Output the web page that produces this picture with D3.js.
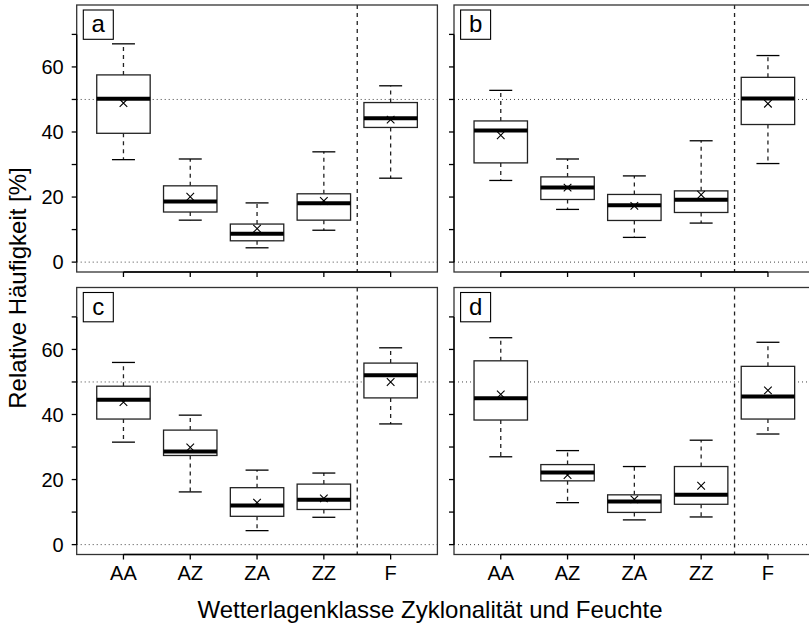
<!DOCTYPE html>
<html><head><meta charset="utf-8">
<script src="https://cdn.jsdelivr.net/npm/d3@7"></script>
<style>body{margin:0;background:#fff} svg{display:block} text{font-family:"Liberation Sans",Arial,Helvetica,sans-serif;fill:#000}</style>
</head><body><svg id="c" width="809" height="626"></svg>
<script>
const categories=["AA","AZ","ZA","ZZ","F"];
const panelLabels=["a","b","c","d"];
const yTicks=[0,10,20,30,40,50,60,70];
const yTickLabels=[0,20,40,60];
const refLines=[0,50];
const separatorAt=4.5;
const whiskerLow=[[31.5,12.9,4.4,9.8,25.8],[25.1,16.2,7.6,12.0,30.3],[31.5,16.2,4.3,8.4,37.1],[27.0,12.9,7.6,8.5,34.0]];
const q1=[[39.6,15.4,6.55,12.9,41.4],[30.5,19.25,12.8,15.26,42.3],[38.6,27.4,8.7,10.8,45.1],[38.3,19.6,9.9,12.4,38.6]];
const median=[[50.2,18.6,8.7,18.1,44.2],[40.45,22.9,17.5,19.15,50.3],[44.5,28.6,12.0,13.8,52.1],[45.0,22.2,13.25,15.3,45.5]];
const q3=[[57.55,23.45,11.7,21.0,49.05],[43.4,26.2,20.8,21.9,56.8],[48.7,35.2,17.5,18.6,55.8],[56.5,24.6,15.3,24.0,54.8]];
const whiskerHigh=[[67.1,31.7,18.2,33.9,54.2],[52.8,31.7,26.5,37.3,63.5],[56.0,39.8,22.9,22.0,60.5],[63.6,28.9,24.0,32.1,62.2]];
const means=[[48.9,20.1,10.3,18.8,43.8],[39.0,22.9,17.3,20.7,48.7],[43.8,29.9,12.9,14.2,50.0],[46.2,21.4,13.9,18.1,47.4]];

const svg=d3.select("#c");
const lefts=[76.7,454], tops=[5,287.5], W=360.7, H=267;
const boxHalf=0.4, capHalf=0.172;

panelLabels.forEach((lab,p)=>{
  const col=p%2, row=Math.floor(p/2);
  const x0=lefts[col], y0=tops[row];
  const x=d3.scaleLinear().domain([0.3,5.7]).range([x0,x0+W]);
  const y=d3.scaleLinear().domain([-3.04,79.04]).range([y0+H,y0]);
  const g=svg.append("g");
  g.append("rect").attr("x",x0).attr("y",y0).attr("width",W).attr("height",H).attr("fill","#fff");
  g.selectAll(".ref").data(refLines).join("line")
    .attr("x1",x0).attr("x2",x0+W).attr("y1",d=>y(d)).attr("y2",d=>y(d))
    .attr("stroke","#444").attr("stroke-width",1).attr("stroke-dasharray","1,3");
  g.append("line").attr("x1",x(separatorAt)).attr("x2",x(separatorAt)).attr("y1",y0).attr("y2",y0+H)
    .attr("stroke","#222").attr("stroke-width",1.3).attr("stroke-dasharray","4,4");
  categories.forEach((c,i)=>{
    const cx=i+1;
    const lo=whiskerLow[p][i], a=q1[p][i], m=median[p][i], b=q3[p][i], hi=whiskerHigh[p][i], mn=means[p][i];
    [[a,lo],[b,hi]].forEach(([s,e])=>{
      g.append("line").attr("x1",x(cx)).attr("x2",x(cx)).attr("y1",y(s)).attr("y2",y(e))
        .attr("stroke","#222").attr("stroke-width",1.3).attr("stroke-dasharray","4,4");
      g.append("line").attr("x1",x(cx-capHalf)).attr("x2",x(cx+capHalf)).attr("y1",y(e)).attr("y2",y(e))
        .attr("stroke","#000").attr("stroke-width",1.3);
    });
    g.append("rect").attr("x",x(cx-boxHalf)).attr("y",y(b)).attr("width",x(cx+boxHalf)-x(cx-boxHalf)).attr("height",y(a)-y(b))
      .attr("fill","#fff").attr("stroke","#222").attr("stroke-width",1.3);
    g.append("line").attr("x1",x(cx-boxHalf)).attr("x2",x(cx+boxHalf)).attr("y1",y(m)).attr("y2",y(m))
      .attr("stroke","#000").attr("stroke-width",4);
    const mx=x(cx), my=y(mn), s=3.8;
    g.append("path").attr("d",`M${mx-s},${my-s}L${mx+s},${my+s}M${mx-s},${my+s}L${mx+s},${my-s}`)
      .attr("stroke","#000").attr("stroke-width",1.1).attr("fill","none");
  });
  g.append("rect").attr("x",x0).attr("y",y0).attr("width",W).attr("height",H)
    .attr("fill","none").attr("stroke","#333").attr("stroke-width",1.3);
  g.append("line").attr("x1",x0).attr("x2",x0).attr("y1",y(0)).attr("y2",y(70)).attr("stroke","#000").attr("stroke-width",1.3);
  g.selectAll(".yt").data(yTicks).join("line")
    .attr("x1",x0-5).attr("x2",x0).attr("y1",d=>y(d)).attr("y2",d=>y(d)).attr("stroke","#000").attr("stroke-width",1.3);
  if(col===0){
    g.selectAll(".yl").data(yTickLabels).join("text")
      .attr("x",x0-13).attr("y",d=>y(d)).attr("dy","0.36em").attr("text-anchor","end")
      .attr("font-size",20).text(d=>d);
  }
  g.append("line").attr("x1",x(1)).attr("x2",x(5)).attr("y1",y0+H).attr("y2",y0+H).attr("stroke","#000").attr("stroke-width",1.3);
  g.selectAll(".xt").data(categories).join("line")
    .attr("x1",(d,i)=>x(i+1)).attr("x2",(d,i)=>x(i+1)).attr("y1",y0+H).attr("y2",y0+H+5)
    .attr("stroke","#000").attr("stroke-width",1.3);
  if(row===1){
    g.selectAll(".xl").data(categories).join("text")
      .attr("x",(d,i)=>x(i+1)).attr("y",580).attr("text-anchor","middle")
      .attr("font-size",20).text(d=>d);
  }
  g.append("rect").attr("x",x0+6.6).attr("y",y0+5).attr("width",30).attr("height",29.3)
    .attr("fill","#fff").attr("stroke","#000").attr("stroke-width",1.1);
  g.append("text").attr("x",x0+6.6+15).attr("y",y0+5+22).attr("text-anchor","middle")
    .attr("font-size",24).text(lab);
});

svg.append("text").attr("x",430).attr("y",618).attr("text-anchor","middle").attr("font-size",24)
  .text("Wetterlagenklasse Zyklonalität und Feuchte");
svg.append("text").attr("transform","translate(26,288) rotate(-90)").attr("text-anchor","middle").attr("font-size",24)
  .text("Relative Häufigkeit [%]");
</script></body></html>
